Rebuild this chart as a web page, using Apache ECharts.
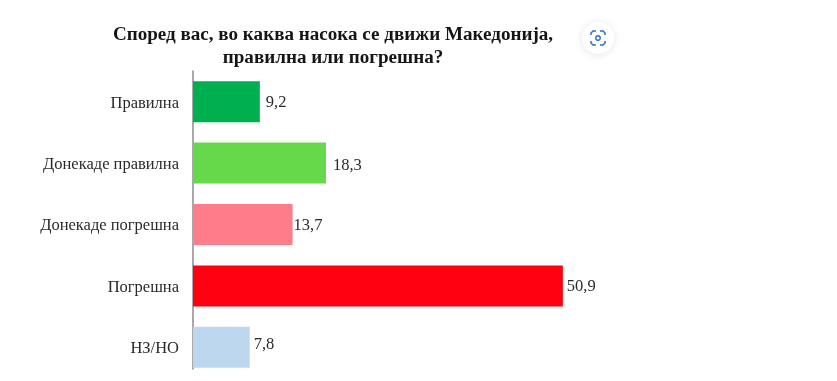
<!DOCTYPE html>
<html>
<head>
<meta charset="utf-8">
<style>
html,body{margin:0;padding:0;background:#fff;}
#chart{width:837px;height:381px;}
</style>
<script src="https://cdn.jsdelivr.net/npm/echarts@6/dist/echarts.min.js"></script>
</head>
<body>
<div id="chart"></div>
<script>
// податоци од графикот
var categories = ['Правилна', 'Донекаде правилна', 'Донекаде погрешна', 'Погрешна', 'НЗ/НО'];
var values = [9.2, 18.3, 13.7, 50.9, 7.8];
var barColors = ['#00b050', '#66d94a', '#ff7c8a', '#ff0010', '#bdd7ee'];
// поместување на етикетите [x, y]
var labelOffsets = [[0, 1], [1, 3], [-5, 1], [-2, 1], [-2, -3]];
var titleText = 'Според вас, во каква насока се движи Македонија,\nправилна или погрешна?';

var fontName = '"Liberation Serif", serif';
var iconColor = '#2a6fc0';
var chart = echarts.init(document.getElementById('chart'));

var barData = [];
for (var i = 0; i < values.length; i++) {
    barData.push({
        value: values[i],
        itemStyle: {color: barColors[i]},
        label: {offset: labelOffsets[i]}
    });
}

function iconCorner(points) {
    return {
        type: 'polyline',
        shape: {points: points},
        style: {fill: 'none', stroke: iconColor, lineWidth: 1.5}
    };
}

var option = {
    animation: false,
    backgroundColor: '#fff',
    title: {
        text: titleText,
        left: 328,
        top: 19,
        textAlign: 'center',
        textStyle: {
            fontFamily: fontName,
            fontSize: 19.1,
            fontWeight: 'bold',
            color: '#151515',
            lineHeight: 23
        }
    },
    // бара се црта во првата мрежа, оската во втората (пократка)
    grid: [
        {left: 193, top: 71, width: 436, height: 307},
        {left: 193, top: 71, width: 436, height: 298}
    ],
    xAxis: [
        {type: 'value', gridIndex: 0, min: 0, max: 60, show: false},
        {type: 'value', gridIndex: 1, min: 0, max: 60, show: false}
    ],
    yAxis: [
        {
            type: 'category',
            gridIndex: 0,
            data: categories,
            inverse: true,
            axisLine: {show: false},
            axisTick: {show: false},
            axisLabel: {
                margin: 14,
                formatter: '{cat|{value}}',
                rich: {
                    cat: {
                        padding: [3, 0, 0, 0],
                        fontFamily: fontName,
                        fontSize: 16.5,
                        color: '#2a2a2a'
                    }
                }
            }
        },
        {
            type: 'category',
            gridIndex: 1,
            data: categories,
            axisLine: {show: true, onZero: false, lineStyle: {color: '#8c8c8c', width: 1.5}},
            axisTick: {show: false},
            axisLabel: {show: false}
        }
    ],
    series: [{
        type: 'bar',
        xAxisIndex: 0,
        yAxisIndex: 0,
        barWidth: 41,
        data: barData,
        label: {
            show: true,
            position: 'right',
            distance: 6,
            fontFamily: fontName,
            fontSize: 16.5,
            color: '#2a2a2a',
            formatter: function (params) {
                return String(params.value).replace('.', ',');
            }
        }
    }],
    // копчето горе десно
    graphic: [
        {
            type: 'circle',
            shape: {cx: 598, cy: 38, r: 16},
            style: {fill: '#fff', shadowBlur: 8, shadowColor: 'rgba(0,0,0,0.10)', shadowOffsetY: 1}
        },
        iconCorner([[591, 35], [591, 33], [593, 31], [596, 31]]),
        iconCorner([[600, 31], [603, 31], [605, 33], [605, 35]]),
        iconCorner([[605, 41], [605, 43], [603, 45], [600, 45]]),
        iconCorner([[596, 45], [593, 45], [591, 43], [591, 41]]),
        {
            type: 'circle',
            shape: {cx: 598, cy: 38, r: 2.2},
            style: {fill: 'none', stroke: iconColor, lineWidth: 1.4}
        }
    ]
};

chart.setOption(option);
</script>
</body>
</html>
